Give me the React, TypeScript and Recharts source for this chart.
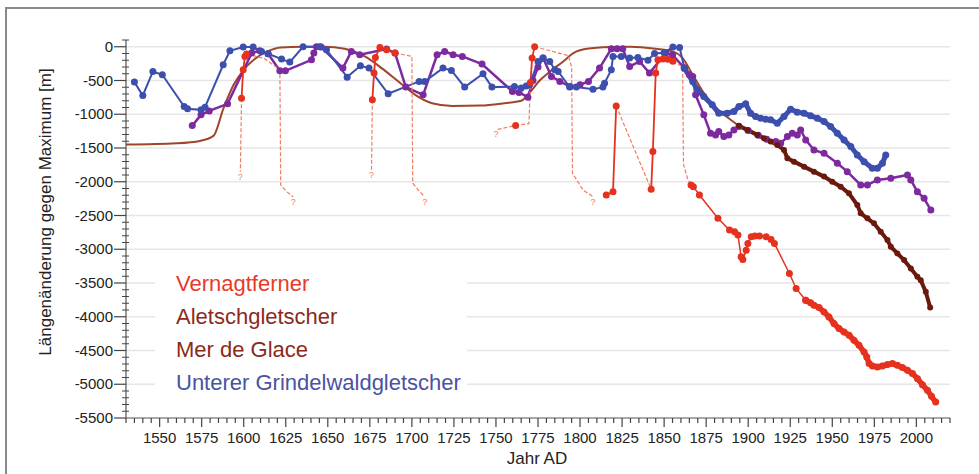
import React from "react";
import {
  ComposedChart,
  Line,
  Scatter,
  XAxis,
  YAxis,
  ReferenceLine,
} from "recharts";

// [Jahr, Längenänderung in m]
const grindelwald = [
  [1535, -524], [1540, -722], [1546, -366], [1551.6, -415], [1564.6, -885], [1566.6, -920],
  [1574.6, -935], [1577, -895], [1587.8, -267], [1591.8, -59], [1599.7, -5], [1605.6, -5],
  [1610.6, -69], [1614.5, -104], [1622.5, -183], [1627.4, -227], [1635.3, 0], [1645.3, 0],
  [1649.2, -45], [1661.5, -450], [1669.4, -282], [1674.5, -316], [1685.9, -697], [1704.3, -514],
  [1707.6, -514], [1718.5, -316], [1723.5, -351], [1731.4, -598], [1742.3, -400], [1747.6, -598],
  [1761, -590], [1765, -610], [1768, -580], [1770, -560], [1775, -218], [1778, -168], [1782, -218],
  [1785, -341], [1787, -366], [1793.8, -598], [1797.8, -598], [1807.7, -628], [1813.6, -598],
  [1814.6, -539], [1818.6, -341], [1819.6, -143], [1824.5, -143], [1829.5, -168], [1834.4, -160],
  [1840.4, -200], [1844.3, -100], [1850, -90], [1855.2, -5], [1859.2, -10], [1862, -316],
];

const grindelwaldRecent = [
  [1862, -316], [1867, -514], [1869.7, -638], [1873.6, -737], [1878.6, -861], [1882.5, -984],
  [1887.5, -984], [1891.5, -960], [1894.5, -886], [1898.5, -846], [1901.4, -984], [1904.4, -1034],
  [1907.4, -1058], [1910.4, -1073], [1913.3, -1083], [1917.3, -1132], [1921.3, -1034],
  [1925.2, -925], [1929.2, -969], [1933.2, -984], [1937.1, -1024], [1941.1, -1058], [1945.1, -1108],
  [1949, -1182], [1953, -1281], [1957, -1380], [1961, -1479], [1964.9, -1603], [1968.9, -1702],
  [1973.8, -1800], [1976.8, -1800], [1979.8, -1726], [1981.8, -1603],
];

const merDeGlace = [
  [1569.4, -1168], [1574.6, -1009], [1579.5, -950], [1590.4, -846], [1604.7, -94], [1609.6, -59],
  [1614.5, -104], [1621.5, -356], [1624.8, -356], [1640.3, -193], [1641.7, -94], [1643.3, 0],
  [1646, -5], [1659, -316], [1664, -69], [1669, -119], [1685, -35], [1690, -94], [1696.4, -598],
  [1706.7, -712], [1715, -119], [1719.5, -69], [1724.5, -119], [1730, -143], [1741.7, -257],
  [1759.8, -663], [1763.7, -678], [1769, -747], [1772, -500], [1775, -300], [1778, -168],
  [1783, -440], [1788, -514], [1794, -589], [1800, -564], [1805, -514], [1811.6, -316],
  [1818.6, -30], [1822, -30], [1825.4, -30], [1829.5, -292], [1835.4, -218], [1841.3, -390],
  [1851, -94], [1855, -119], [1862, -316], [1865, -415], [1867, -440], [1868.7, -712],
  [1873.6, -1009], [1877.6, -1281], [1880.6, -1306], [1882.5, -1257], [1885.5, -1331],
  [1888.5, -1306], [1891.5, -1232], [1894.5, -1182], [1900, -1240], [1906, -1310], [1911, -1370],
  [1916.4, -1405], [1919.3, -1430], [1923.3, -1331], [1926.2, -1281], [1929.2, -1306],
  [1931.2, -1232], [1934.2, -1380], [1939.1, -1529], [1945.1, -1578], [1953, -1726],
  [1958.9, -1850], [1966.9, -2048], [1970.9, -2048], [1976.8, -1974], [1984.8, -1949],
  [1994.7, -1900], [1996.7, -1974], [2000.6, -2147], [2004.6, -2245], [2008.6, -2419],
];

const aletschCurve = [
  [1530, -1450], [1560, -1430], [1574, -1395], [1582, -1321], [1588, -910], [1594, -564],
  [1600, -341], [1606, -193], [1614, -69], [1622, -10], [1635, 0], [1648, 0], [1660, -30],
  [1672, -143], [1682, -316], [1692, -514], [1702, -712], [1712, -836], [1724, -876],
  [1741, -871], [1755, -836], [1765, -800], [1770, -680], [1776, -500], [1782, -370],
  [1790, -218], [1796, -94], [1804, -30], [1818, -5], [1830, 0], [1845, -30], [1855, -69],
  [1861, -168], [1867, -415], [1873, -663], [1880, -886], [1887, -1034], [1894.5, -1172],
];

const aletschMeasured = [
  [1894.5, -1172], [1899.5, -1232], [1905.4, -1306], [1909.4, -1355], [1913.3, -1405],
  [1917.3, -1454], [1921.3, -1529], [1923.3, -1652], [1927.2, -1702], [1933.2, -1776],
  [1939.1, -1850], [1945.1, -1924], [1950, -1999], [1955, -2073], [1959.9, -2172],
  [1964.9, -2345], [1966.9, -2468], [1970.9, -2542], [1974.8, -2616], [1978.8, -2740],
  [1982.8, -2864], [1984.8, -2963], [1988.7, -3062], [1992.7, -3161], [1996.7, -3284],
  [2000.6, -3408], [2002.6, -3458], [2005.6, -3631], [2008.2, -3863],
];

// Vernagtferner: gemessene Abschnitte (durchgezogen) und rekonstruierte Abschnitte (gestrichelt)
const vernagtSolid = [
  [[1598.7, -762], [1599.7, -341], [1600.7, -143], [1601.7, -109]],
  [[1676.5, -786], [1677.5, -390], [1678.3, -158], [1681, -10], [1685, -45], [1690, -94]],
  [[1761.7, -1165]],
  [[1770.5, -530], [1771.5, -168], [1773, 0]],
  [[1815.6, -2196], [1819.6, -2147], [1821.5, -876]],
  [[1842.3, -2112], [1843.3, -1553], [1845, -390], [1846.3, -193], [1849.3, -180],
    [1852.2, -185], [1855.2, -215]],
];

const vernagtDashed = [
  [[1598.7, -762], [1598, -1850]],
  [[1601.7, -109], [1612, -170], [1621.5, -340], [1622, -2048], [1625.5, -2147], [1629.4, -2221]],
  [[1676.5, -786], [1676, -1825]],
  [[1690, -94], [1700, -143], [1700.5, -2020], [1704, -2130], [1707.6, -2221]],
  [[1751, -1225], [1761.7, -1165], [1769.6, -1140], [1770.5, -530]],
  [[1773, 0], [1793, -130], [1795, -300], [1795.5, -1874], [1801.8, -2122], [1807.7, -2221]],
  [[1821.5, -876], [1842.3, -2112]],
  [[1855.2, -215], [1861, -300], [1861.5, -1740], [1864, -1960], [1866, -2048]],
];

const vernagtRecent = [
  [1866, -2048], [1867.4, -2073], [1871, -2196], [1882, -2540], [1888.9, -2716], [1891.9, -2740],
  [1893.9, -2790], [1895.8, -3112], [1896.8, -3151], [1898.8, -3013], [1899.8, -2914],
  [1901.8, -2815], [1904, -2805], [1906.7, -2805], [1910.7, -2815], [1913.6, -2854],
  [1915.6, -2914], [1924.5, -3359], [1928.5, -3581], [1934.2, -3755],
];

const vernagtAnnual = [
  [1934.2, -3755], [1937.1, -3794], [1939.1, -3829], [1942.1, -3863], [1945.1, -3928],
  [1948, -4002], [1951, -4101], [1954, -4175], [1957, -4225], [1960, -4274], [1962.9, -4348],
  [1965.9, -4422], [1968.9, -4522], [1970.5, -4596], [1971.9, -4694], [1973.9, -4729],
  [1976.8, -4744], [1979.8, -4729], [1982.8, -4709], [1985.8, -4694], [1988.7, -4719],
  [1991.7, -4753], [1994.7, -4793], [1997.7, -4842], [2000.7, -4917], [2003.6, -5006],
  [2006.6, -5090], [2009, -5179], [2011.5, -5264],
];

const questionMarks = [
  [1598, -1850], [1629.4, -2221], [1676, -1825], [1707.6, -2221], [1750, -1225], [1807.7, -2221],
];

const legendNames = [
  "Vernagtferner",
  "Aletschgletscher",
  "Mer de Glace",
  "Unterer Grindelwaldgletscher",
];
const legendColors = ["#e63b28", "#8c2a1a", "#8c2a1a", "#4a52a2"];

const xLabels = [1550, 1575, 1600, 1625, 1650, 1675, 1700, 1725, 1750, 1775, 1800, 1825, 1850, 1875, 1900, 1925, 1950, 1975, 2000];
const yLabels = [0, -500, -1000, -1500, -2000, -2500, -3000, -3500, -4000, -4500, -5000, -5500];
const xTicks = Array.from({ length: 99 }, (_, i) => 1530 + i * 5);
const yTicks = Array.from({ length: 57 }, (_, i) => -5500 + i * 100);

const RED = "#e5311d";
const RED_DASH = "#ef7d62";
const BROWN = "#6a1a0c";
const BROWN_CURVE = "#a0452a";
const PURPLE = "#7d2a9e";
const BLUE = "#3d4fae";
const FONT = "'Liberation Sans', Arial, sans-serif";

const pts = (arr: number[][]) => arr.map(([x, y]) => ({ x, y }));

function XTick({ x, y, payload }: any) {
  const major = xLabels.includes(payload.value);
  return (
    <g>
      <line x1={x} y1={y} x2={x} y2={y + (major ? 9 : 5)} stroke="#444" strokeWidth={1.2} />
      {major && (
        <text x={x} y={y + 25} textAnchor="middle" fontSize={15} fill="#222" fontFamily={FONT}>
          {payload.value}
        </text>
      )}
    </g>
  );
}

function YTick({ x, y, payload }: any) {
  const major = yLabels.includes(payload.value);
  return (
    <g>
      {major ? (
        <line x1={x - 12} y1={y} x2={x} y2={y} stroke="#444" strokeWidth={1.2} />
      ) : (
        <line x1={x - 4} y1={y} x2={x + 3} y2={y} stroke="#444" strokeWidth={1} />
      )}
      {major && (
        <text x={x - 13} y={y + 5} textAnchor="end" fontSize={15} fill="#222" fontFamily={FONT}>
          {payload.value}
        </text>
      )}
    </g>
  );
}

const dotStyle = (c: string, r = 3.5) => ({ r, fill: c, stroke: c, strokeWidth: 0 });

export default function App() {
  return (
    <div style={{ position: "absolute", left: 0, top: 0, width: 979, height: 474, background: "#fff", overflow: "hidden" }}>
      <div
        style={{
          position: "absolute", left: 5, top: 7, width: 1000, height: 500,
          borderTop: "2px solid #8a8a8a", borderLeft: "2px solid #8a8a8a",
        }}
      />
      <ComposedChart width={979} height={474} margin={{ top: 40, right: 29, bottom: 6, left: 46 }}>
        <XAxis
          type="number"
          dataKey="x"
          domain={[1530, 2020]}
          ticks={xTicks}
          interval={0}
          allowDataOverflow
          tickSize={0}
          tickMargin={0}
          tickLine={false}
          tick={<XTick />}
          height={50}
          axisLine={{ stroke: "#555", strokeWidth: 1.2 }}
        />
        <YAxis
          type="number"
          dataKey="y"
          domain={[-5500, 100]}
          ticks={yTicks}
          interval={0}
          allowDataOverflow
          tickSize={0}
          tickMargin={0}
          tickLine={false}
          tick={<YTick />}
          width={80}
          axisLine={{ stroke: "#555", strokeWidth: 1.2 }}
        />
        {yLabels.slice(0, -1).map((v) => (
          <ReferenceLine key={v} y={v} stroke="#e6e6e6" strokeWidth={1.5} />
        ))}
        <Line data={pts(aletschCurve)} dataKey="y" type="monotone" stroke={BROWN_CURVE} strokeWidth={2}
          dot={false} activeDot={false} isAnimationActive={false} />
        <Line data={pts(merDeGlace)} dataKey="y" stroke={PURPLE} strokeWidth={2.5}
          dot={dotStyle(PURPLE)} activeDot={false} isAnimationActive={false} />
        <Line data={pts(grindelwald)} dataKey="y" stroke={BLUE} strokeWidth={2}
          dot={dotStyle(BLUE)} activeDot={false} isAnimationActive={false} />
        <Line data={pts(grindelwaldRecent)} dataKey="y" stroke={BLUE} strokeWidth={5}
          dot={dotStyle(BLUE)} activeDot={false} isAnimationActive={false} />
        <Line data={pts(aletschMeasured)} dataKey="y" stroke={BROWN} strokeWidth={4}
          dot={dotStyle(BROWN, 3)} activeDot={false} isAnimationActive={false} />
        {vernagtDashed.map((seg, i) => (
          <Line key={"d" + i} data={pts(seg)} dataKey="y" stroke={RED_DASH} strokeWidth={1.2}
            strokeDasharray="4 2" dot={false} activeDot={false} isAnimationActive={false} />
        ))}
        {vernagtSolid.map((seg, i) => (
          <Line key={"s" + i} data={pts(seg)} dataKey="y" stroke={RED} strokeWidth={1.8}
            dot={dotStyle(RED)} activeDot={false} isAnimationActive={false} />
        ))}
        <Line data={pts(vernagtRecent)} dataKey="y" stroke={RED} strokeWidth={1.5}
          dot={dotStyle(RED)} activeDot={false} isAnimationActive={false} />
        <Line data={pts(vernagtAnnual)} dataKey="y" stroke={RED} strokeWidth={5.5}
          dot={dotStyle(RED)} activeDot={false} isAnimationActive={false} />
        <Scatter
          data={pts(questionMarks)}
          dataKey="y"
          isAnimationActive={false}
          shape={(p: any) => (
            <text x={p.cx} y={p.cy + 8} textAnchor="middle" fontSize={9} fill={RED_DASH} fontFamily={FONT}>
              ?
            </text>
          )}
        />
      </ComposedChart>
      <div
        style={{
          position: "absolute", left: 155, top: 262, width: 312, height: 138, background: "#fff",
          fontFamily: FONT, fontSize: 22, lineHeight: "33px",
        }}
      >
        <div style={{ paddingLeft: 21, paddingTop: 5 }}>
          {legendNames.map((n, i) => (
            <div key={n} style={{ color: legendColors[i], whiteSpace: "nowrap" }}>{n}</div>
          ))}
        </div>
      </div>
      <div
        style={{
          position: "absolute", left: 46, top: 212, transform: "translate(-50%, -50%) rotate(-90deg)",
          whiteSpace: "nowrap", fontFamily: FONT, fontSize: 17, color: "#222",
        }}
      >
        Längenänderung gegen Maximum [m]
      </div>
      <div
        style={{
          position: "absolute", left: 537, top: 459, transform: "translate(-50%, -50%)",
          whiteSpace: "nowrap", fontFamily: FONT, fontSize: 17, color: "#222",
        }}
      >
        Jahr AD
      </div>
    </div>
  );
}
